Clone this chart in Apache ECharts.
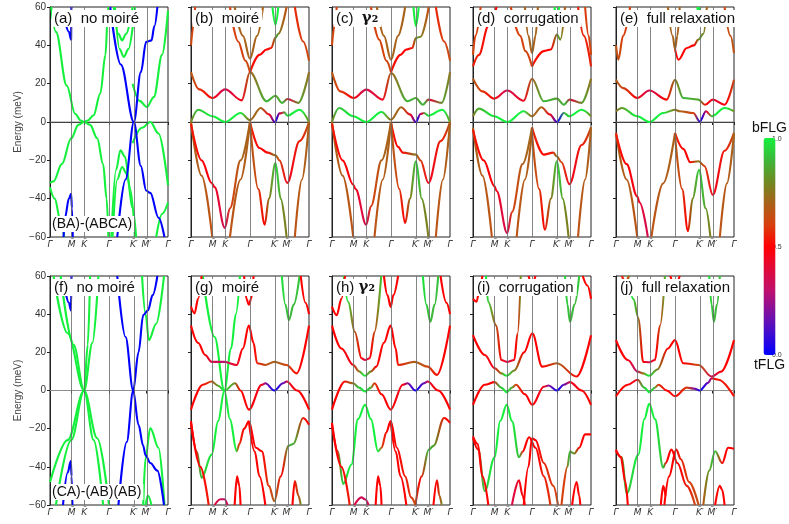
<!DOCTYPE html>
<html>
<head>
	<meta charset="UTF-8">
	<title>FLG band structures</title>
	<script src="https://cdn.jsdelivr.net/npm/echarts@6/dist/echarts.min.js"></script>
	<style>
		html, body { margin: 0; padding: 0; background: #fff; }
		#main { width: 789px; height: 524px; }
	</style>
</head>
<body>
<div id="main"></div>
<script type="text/javascript">
    // k path: Γ - M - K - Γ - K' - M' - Γ (fraction of path length)
    var kTicks = [0, 0.183, 0.289, 0.5, 0.711, 0.817, 1];
    var kLabels = ['Γ\u0304', 'M\u0304', 'K\u0304', 'Γ\u0304', 'K\u0304\u2032', 'M\u0304\u2032', 'Γ\u0304'];
    var eMin = -60, eMax = 60, eStep = 20;

    var panelTitles = ['(a)  no moiré', '(b)  moiré', '(c)  γ₂', '(d)  corrugation', '(e)  full relaxation',
        '(f)  no moiré', '(g)  moiré', '(h) γ₂', '(i)  corrugation', '(j)  full relaxation'];
    var stackLabels = ['(BA)-(ABCA)', '(CA)-(AB)(AB)'];

    // weight: 1 = bFLG (green), 0 = tFLG (blue)
    var bandsA_green = [
        [[0.01, 60], [0.05, 47], [0.142, 19], [0.213, 4.3], [0.26, 0.8], [0.289, 0], [0.32, 0.8], [0.369, 3.5], [0.426, 14.8], [0.47, 35], [0.49, 56.5], [0.495, 60]],
        [[0, -31.8], [0.03, -31], [0.1, -22], [0.18, -8.5], [0.24, -1.5], [0.289, 0], [0.34, -1.5], [0.4, -8.5], [0.45, -22], [0.48, -40], [0.495, -60]],
        [[0, -34], [0.04, -40], [0.09, -52], [0.12, -60]],
        [[0.54, 60], [0.58, 46], [0.611, 42.6], [0.645, 46], [0.7, 60]],
        [[0.55, 60], [0.59, 38], [0.625, 34], [0.665, 38], [0.72, 60]],
        [[0.52, -60], [0.56, -25], [0.597, -14.8], [0.635, -18], [0.68, -35], [0.72, -60]],
        [[0.53, -60], [0.57, -30], [0.611, -23.5], [0.65, -27], [0.7, -45], [0.73, -60]],
        [[0.7, 20], [0.76, 11], [0.82, 7.8], [0.88, 13], [0.95, 35], [1, 58]],
        [[0.7, -11], [0.78, -3], [0.85, 0], [0.92, -6], [1, -33]],
        [[0.9, -60], [0.95, -48], [1, -42]]
    ];
    var bandsA_blue = [
        [[0.57, -60], [0.64, -30], [0.711, 0], [0.77, 26], [0.815, 41.8], [0.86, 42.6], [0.885, 50], [0.91, 60]],
        [[0.51, 60], [0.6, 30], [0.711, 0], [0.77, -23], [0.815, -35.7], [0.85, -37], [0.92, -50], [0.97, -60]],
        [[0.13, 52], [0.16, 47], [0.179, 43], [0.181, 60]],
        [[0.115, -60], [0.128, -49.6], [0.16, -40], [0.179, -37.4], [0.186, -45], [0.193, -60]]
    ];
    var bandsF_green = [
        [[0.03, 60], [0.15, 30], [0.289, 0], [0.4, -25], [0.5, -60]],
        [[0.09, 60], [0.2, 24], [0.289, 0], [0.37, -26], [0.45, -60]],
        [[0, -48], [0.15, -26], [0.289, 0], [0.36, 25], [0.41, 60]],
        [[0.05, -60], [0.18, -26], [0.289, 0], [0.32, 24], [0.34, 60]],
        [[0.78, 60], [0.81, 40], [0.838, 26.4], [0.9, 35], [0.966, 60]],
        [[0.79, -60], [0.81, -35], [0.85, -19.7], [0.92, -30], [0.97, -60]],
        [[0.81, -60], [0.83, -55], [0.86, -60]]
    ];
    var bandsF_blue = [
        [[0.57, 60], [0.64, 28], [0.705, 0], [0.75, -18], [0.79, -29], [0.81, -34], [0.85, -38], [0.91, -42], [0.966, -60]],
        [[0.58, -60], [0.65, -27], [0.705, 0], [0.75, 20], [0.79, 39.5], [0.83, 42], [0.87, 50], [0.91, 60]],
        [[0.13, 52], [0.16, 46], [0.178, 42], [0.182, 60]],
        [[0.11, -60], [0.15, -43], [0.176, -37], [0.183, -45], [0.19, -60]]
    ];

    // [k, E (meV), weight]
    var bandsB = [
        [[0, 0, .72], [.06, 6.4, .9], [.183, 3, 1], [.289, 0, 1], [.42, 4.7, 1], [.5, 1, .72], [.59, 7.3, .7], [.66, 4, .45], [.711, 0, .02], [.75, 4.5, .4], [.79, 5, .9], [.817, 3.3, 1], [.92, 6.4, 1], [1, 0, .72]],
        [[0, 26, .7], [.07, 17, .6], [.183, 12.5, .5], [.289, 17, .35], [.43, 11.3, .45], [.5, 26, .7], [.64, 10.8, .9], [.716, 13.7, .85], [.77, 10, .9], [.817, 12, .4], [.91, 10, .85], [1, 26, .7]],
        [[.37, 60, .7], [.44, 45, .7], [.5, 33, .7], [.56, 45, .7], [.61, 60, .7]],
        [[.33, 60, .6], [.4, 42, .6], [.46, 32, .62], [.5, 26, .65]],
        [[.5, 26, .55], [.58, 35, .5], [.64, 37.8, .5], [.68, 38.6, .55], [.716, 44, .85], [.74, 46, .75], [.81, 60, .6]],
        [[.69, 60, 1], [.716, 50.8, 1], [.74, 60, 1]],
        [[0, 40, .65], [.02, 50, .6], [.035, 60, .6]],
        [[.88, 60, .55], [.95, 42, .6], [1, 32, .65]],
        [[0, 0, .7], [.09, -28, .68], [.18, -60, .65]],
        [[0, -1, .55], [.09, -20, .5], [.175, -31.8, .48], [.2, -34, .45], [.287, -55.3, .35], [.33, -45, .6], [.42, -20, .7], [.5, 0, .72]],
        [[.33, -60, .65], [.42, -30, .68], [.5, 0, .7]],
        [[.5, 0, .6], [.58, -13.6, .5], [.65, -16, .5], [.716, -17.4, .75], [.75, -20, .6], [.815, -31.8, .45], [.92, -10, .55], [1, 0, .7]],
        [[.5, 0, .7], [.57, -35, .62], [.625, -53.6, .5], [.66, -40, .75], [.716, -21.4, .95], [.76, -40, .8], [.81, -60, .75]],
        [[.88, -60, .65], [.94, -30, .68], [1, 0, .7]]
    ];
    var bandsC = [
        [[0, 0, .72], [.06, 7.3, .9], [.18, 3, 1], [.29, 0, 1], [.42, 5.2, 1], [.5, 1.2, .72], [.585, 7.7, .7], [.66, 4, .45], [.711, 0, .02], [.75, 4.2, .4], [.78, 4.7, .9], [.817, 3.3, 1], [.935, 6.4, 1], [1, 0, .72]],
        [[0, 26, .7], [.07, 16, .6], [.185, 12.5, .5], [.29, 16.9, .35], [.43, 11.7, .45], [.5, 25.6, .7], [.64, 10.8, .9], [.711, 12.5, .85], [.77, 9, .9], [.817, 11.7, .4], [.93, 10, .85], [1, 26, .7]],
        [[.38, 60, .7], [.44, 45, .7], [.5, 32.5, .7], [.56, 45, .7], [.62, 60, .7]],
        [[.33, 60, .6], [.4, 43, .6], [.46, 32, .62], [.5, 26, .65]],
        [[.5, 26, .55], [.58, 35, .5], [.63, 37.8, .5], [.68, 38.6, .55], [.711, 43.8, .85], [.75, 44.5, .75], [.82, 60, .6]],
        [[.69, 60, 1], [.711, 50, 1], [.735, 60, 1]],
        [[0, 40, .65], [.02, 50, .6], [.04, 60, .6]],
        [[.88, 60, .55], [.95, 42, .6], [1, 32, .65]],
        [[0, 0, .7], [.09, -28, .68], [.18, -60, .65]],
        [[0, -1, .55], [.09, -20, .5], [.18, -32.7, .48], [.2, -35, .45], [.29, -53.6, .35], [.33, -44, .6], [.42, -20, .7], [.5, 0, .72]],
        [[.36, -60, .65], [.43, -30, .68], [.5, 0, .7]],
        [[.5, 0, .6], [.56, -13, .5], [.6, -16, .5], [.711, -17, .75], [.75, -20, .6], [.817, -31.8, .45], [.92, -10, .55], [1, 0, .7]],
        [[.5, 0, .7], [.57, -35, .62], [.62, -52.7, .5], [.66, -40, .75], [.711, -20.5, .95], [.76, -40, .8], [.817, -60, .75]],
        [[.88, -60, .65], [.94, -30, .68], [1, 0, .7]]
    ];
    var bandsD = [
        [[0, 3, .7], [.05, 7, .85], [.18, 3, 1], [.29, 0, 1], [.43, 5.6, 1], [.5, 3, .7], [.58, 7.7, .7], [.65, 4, .45], [.711, 0, .02], [.77, 4.7, .9], [.817, 3, 1], [.92, 6.4, 1], [1, 3, .7]],
        [[0, 22.6, .7], [.08, 16, .6], [.18, 12.2, .5], [.29, 16.4, .35], [.43, 11.1, .45], [.5, 22.6, .7], [.6, 10.8, .9], [.711, 12.2, .85], [.77, 9, .9], [.817, 11.7, .4], [.92, 10, .85], [1, 22.6, .7]],
        [[.44, 60, .7], [.47, 45, .7], [.5, 36, .7], [.53, 45, .7], [.55, 60, .7]],
        [[.32, 60, .6], [.4, 45, .6], [.444, 37, .62], [.5, 29, .6]],
        [[.5, 29, .55], [.6, 37, .5], [.66, 37.8, .5], [.711, 45.6, .85], [.74, 43, .75], [.78, 60, .6]],
        [[.69, 60, 1], [.711, 53, 1], [.73, 60, 1]],
        [[0, 35, .65], [.02, 45, .6], [.065, 60, .6]],
        [[0, 29, .55], [.05, 35, .55], [.13, 50, .5], [.2, 60, .5]],
        [[.95, 60, .6], [.98, 45, .6], [1, 35, .65]],
        [[.89, 60, .55], [.94, 45, .55], [1, 29, .55]],
        [[0, -3, .7], [.08, -28, .68], [.16, -60, .65]],
        [[0, -4, .55], [.09, -20, .5], [.183, -33.6, .48], [.2, -36, .45], [.29, -58, .35], [.33, -47, .6], [.42, -22, .7], [.5, -2.8, .72]],
        [[.37, -60, .65], [.44, -30, .68], [.5, -5, .7]],
        [[.5, -2.8, .6], [.6, -17, .5], [.68, -16, .55], [.711, -18, .75], [.75, -21, .6], [.817, -32.4, .45], [.92, -12, .55], [1, -2.8, .7]],
        [[.5, -5.7, .7], [.56, -35, .62], [.61, -56.2, .5], [.66, -40, .75], [.711, -20.5, .95], [.76, -40, .8], [.81, -60, .75]],
        [[.89, -60, .65], [.95, -30, .68], [1, -2.8, .7]]
    ];
    var bandsE = [
        [[0, 5.6, .7], [.05, 7.3, .8], [.18, 3, 1], [.283, 0, 1], [.4, 4.7, 1], [.5, 6.4, .75], [.54, 5.6, .7], [.655, 4.7, .6], [.71, 0.3, 0], [.763, 5.6, .45], [.81, 3, 1], [.92, 7.3, 1], [1, 5.6, .72]],
        [[0, 22, .7], [.06, 17.7, .65], [.18, 12.5, .5], [.283, 16.4, .35], [.43, 11.7, .5], [.5, 22, .75], [.57, 12.5, .9], [.698, 11.7, .85], [.754, 9, .5], [.82, 11.7, .4], [.92, 9, .5], [1, 22, .7]],
        [[0, 40, .65], [.02, 32.5, .65], [.06, 45, .6], [.12, 60, .6]],
        [[.44, 60, .7], [.48, 45, .7], [.5, 38, .7], [.52, 45, .7], [.54, 60, .7]],
        [[.5, 38, .6], [.53, 32.5, .5], [.6, 38.6, .5], [.66, 40, .5], [.698, 43, .85], [.74, 46, .75], [.77, 60, .6]],
        [[.69, 60, 1], [.698, 55, 1], [.71, 60, 1]],
        [[.92, 60, .6], [.97, 45, .65], [1, 36, .65]],
        [[0, -5.7, .7], [.09, -30, .68], [.18, -60, .65]],
        [[0, -6, .55], [.09, -22, .5], [.18, -38.8, .45], [.2, -42, .4], [.27, -60, .35]],
        [[.3, -60, .65], [.4, -32, .68], [.5, -5.7, .7]],
        [[.5, -5.7, .6], [.57, -14, .5], [.63, -21, .5], [.7, -20.5, .75], [.75, -23, .6], [.82, -38, .45], [.92, -15, .55], [1, -5.7, .7]],
        [[.5, -7, .7], [.56, -35, .62], [.61, -57, .5], [.65, -40, .8], [.703, -25, .95], [.76, -45, .8], [.8, -60, .75]],
        [[.88, -60, .65], [.94, -32, .68], [1, -5.7, .7]]
    ];
    var bandsG = [
        [[.1, 60, 1], [.2, 28, 1], [.283, 0, 1], [.33, -15, 1], [.387, -31.8, 1], [.41, -28, .6], [.45, -20, .5], [.49, -16.2, .5], [.55, -30, .5], [.6, -31.8, .5], [.66, -50, .6], [.706, -58, .7], [.76, -45, .5], [.825, -29, .9], [.867, -28, .85], [.95, -14.4, .5], [1, -18, .5]],
        [[0, -16, .5], [.05, -32, .5], [.09, -45.8, .9], [.175, -33.6, 1], [.23, -16, 1], [.283, 0, 1], [.34, 22, 1], [.38, 40, 1], [.415, 60, 1]],
        [[0, -10, .5], [.1, 3, .5], [.175, 4.7, .6], [.23, 2.5, .8], [.283, 0, 1], [.373, 3.8, .8], [.42, 0, .5], [.49, -10, .5], [.6, 3, .45], [.63, 3.8, .2], [.706, 0, 0], [.78, 3.8, .2], [.81, 4.7, .45], [.9, 0, .5], [1, -10, .5]],
        [[0, 34, .5], [.06, 25, .5], [.12, 18.6, .5], [.175, 15, .4], [.283, 15, .3], [.387, 13.4, .45], [.44, 22, .5], [.49, 34, .5], [.53, 25, .5], [.56, 14.3, .55], [.63, 13.4, .65], [.706, 15, .7], [.81, 13.4, .6], [.895, 9, .5], [1, 34, .5]],
        [[0, 44, .5], [.03, 40.4, .5], [.06, 48, .5], [.09, 60, .5]],
        [[.45, 60, .5], [.47, 48, .5], [.49, 45, .5], [.51, 48, .5], [.53, 60, .5]],
        [[.77, 60, 1], [.8, 45, .95], [.83, 36.9, .9], [.87, 45, .9], [.92, 60, .95]],
        [[.93, 60, .5], [.97, 46, .5], [1, 40, .5]],
        [[0, -17, .5], [.08, -40, .5], [.15, -60, .55]],
        [[.49, -16.2, .5], [.54, -32, .5], [.58, -45, .5], [.63, -60, .5]],
        [[.2, -60, .4], [.25, -57, .35], [.283, -57, .3], [.31, -60, .4]],
        [[.37, -60, .5], [.39, -45, .5], [.41, -50, .5], [.42, -60, .5]],
        [[.86, -60, .5], [.88, -47.5, .5], [.91, -55, .7], [.93, -60, .9]]
    ];
    var bandsH = [
        [[.1, 60, 1], [.137, 46.5, 1], [.193, 30.8, .7], [.25, 16.9, .5], [.28, 16, .35], [.32, 16.9, .5], [.361, 30.8, .7], [.417, 60, 1]],
        [[0, 34, .5], [.08, 22, .5], [.18, 13.4, .45], [.23, 10, .7], [.28, 7.7, 1], [.33, 10, .8], [.375, 12.5, .5], [.44, 25, .5], [.497, 34, .5], [.54, 22, .5], [.56, 13.4, .55], [.7, 15, .7], [.81, 12.5, .6], [.89, 8.2, .5], [1, 34, .5]],
        [[0, -10, .5], [.11, 4.7, .5], [.18, 3.8, .7], [.23, 1.5, .9], [.28, -0.5, 1], [.33, 1.5, .9], [.36, 3.8, .6], [.42, -2, .5], [.497, -10, .5], [.6, 3, .45], [.64, 3.8, .2], [.707, 0, 0], [.78, 3.8, .2], [.81, 4.7, .45], [.9, 0, .5], [1, -10, .5]],
        [[0, -17, .5], [.05, -32, .5], [.095, -49, .9], [.165, -38.8, 1], [.22, -15, 1], [.28, -7.5, 1], [.33, -15, 1], [.39, -31.8, 1], [.42, -30, .6], [.46, -22, .5], [.497, -16, .5], [.55, -30, .5], [.62, -45, .55], [.67, -56, .6], [.707, -60, .7]],
        [[.707, -60, .7], [.76, -45, .5], [.82, -31, .9], [.86, -29, .85], [.95, -14.4, .5], [1, -17, .5]],
        [[0, -18, .5], [.08, -40, .5], [.15, -60, .55]],
        [[.497, -16, .5], [.54, -32, .5], [.58, -45, .5], [.63, -60, .5]],
        [[0, 44, .5], [.04, 39.5, .5], [.08, 48, .5], [.11, 60, .5]],
        [[.44, 60, .5], [.47, 50, .5], [.497, 43.8, .5], [.52, 50, .5], [.56, 60, .5]],
        [[.77, 60, 1], [.8, 45, .95], [.833, 36, .9], [.87, 45, .9], [.9, 60, .95]],
        [[.92, 60, .5], [.97, 46, .5], [1, 40, .5]],
        [[.19, -60, .4], [.25, -56, .35], [.28, -57, .3], [.31, -60, .4]],
        [[.37, -60, .5], [.39, -45, .5], [.41, -50, .5], [.42, -60, .5]],
        [[.86, -60, .5], [.89, -47, .5], [.91, -55, .7], [.93, -60, .9]]
    ];
    var bandsI = [
        [[.11, 60, 1], [.128, 46.5, 1], [.197, 34, .7], [.239, 16, .5], [.286, 15, .35], [.35, 16, .5], [.378, 30, .7], [.405, 60, 1]],
        [[0, 29, .5], [.1, 18.6, .5], [.183, 11.7, .45], [.24, 9, .7], [.286, 7.7, 1], [.35, 10.5, .8], [.433, 20, .5], [.503, 30, .5], [.586, 12.5, .5], [.711, 14.3, .7], [.878, 7.3, .5], [1, 29, .5]],
        [[0, -7.5, .5], [.1, 3, .5], [.183, 4.4, .5], [.24, 1.5, .9], [.286, -0.9, 1], [.33, 1.5, .9], [.364, 3, .6], [.44, -2, .5], [.503, -7.5, .5], [.6, 2, .45], [.64, 2.6, .2], [.711, 0, 0], [.77, 3, .2], [.822, 4.4, .45], [.92, 0, .5], [1, -7.5, .5]],
        [[0, -25, .5], [.045, -31, .5], [.1, -52.7, .9], [.183, -35, 1], [.23, -16, 1], [.286, -7.5, 1], [.33, -16, 1], [.39, -35, .9], [.42, -32, .5], [.475, -24.5, .5], [.53, -30, .5], [.6, -45, .55], [.656, -60, .6]],
        [[.43, -60, .5], [.47, -40, .5], [.5, -25, .5], [.53, -26, .5], [.6, -38, .55], [.68, -50, .6], [.72, -60, .65]],
        [[0, -24, .5], [.04, -28, .5], [.08, -45, .5], [.13, -60, .5]],
        [[.75, -60, .6], [.8, -40, .6], [.822, -32, .9], [.86, -33, .8], [.9, -30, .5], [.95, -23, .5], [1, -23, .5]],
        [[.84, -60, .5], [.878, -48, .5], [.9, -55, .5], [.91, -60, .6]],
        [[.33, -60, .35], [.39, -47, .45], [.42, -55, .5], [.44, -60, .5]],
        [[0, 48, .5], [.03, 46.5, .5], [.06, 55, .5], [.08, 60, .5]],
        [[.78, 60, 1], [.8, 45, .95], [.822, 36, .9], [.86, 45, .9], [.9, 60, .95]],
        [[.93, 60, .5], [.97, 55, .5], [1, 48, .5]],
        [[.47, 60, .5], [.5, 56, .5], [.53, 60, .5]]
    ];
    var bandsJ = [
        [[.1, 60, 1], [.147, 48, 1], [.19, 38, .8], [.23, 15, .5], [.282, 14.8, .35], [.33, 16, .5], [.373, 34, .7], [.415, 60, 1]],
        [[0, 26.4, .5], [.1, 16, .5], [.183, 9.9, .3], [.23, 9, .7], [.282, 7.7, 1], [.35, 11, .8], [.44, 22, .5], [.5, 26.4, .5], [.57, 14.3, .5], [.7, 13.4, .65], [.81, 7.3, .35], [.89, 9.9, .5], [1, 26.4, .5]],
        [[0, -3, .5], [.1, 3, .5], [.183, 5.6, .45], [.24, 1.5, .9], [.282, -0.9, 1], [.33, 1.5, .9], [.36, 3, .6], [.43, 0, .5], [.5, -3, .5], [.6, 1.5, .6], [.66, 1, .2], [.71, 0, 0], [.78, 4, .2], [.81, 6.4, .5], [.87, 5.6, .55], [1, -3, .5]],
        [[0, -31.8, .5], [.05, -35, .5], [.09, -54, .9], [.19, -33.6, 1], [.24, -15, 1], [.282, -7, 1], [.33, -15, 1], [.4, -40.5, .9], [.42, -38, .5], [.47, -31, .5], [.52, -38, .5], [.6, -50, .55], [.67, -60, .65]],
        [[.41, -60, .5], [.45, -45, .5], [.51, -31, .5], [.55, -36, .55], [.62, -48, .6], [.7, -60, .65]],
        [[0, -31, .5], [.04, -35, .5], [.08, -48, .5], [.1, -60, .5]],
        [[.74, -60, .6], [.79, -42, .8], [.84, -31.8, .95], [.9, -38, .5], [.95, -30, .5], [1, -30.5, .5]],
        [[.84, -60, .5], [.88, -50, .5], [.9, -52, .5], [.92, -60, .5]],
        [[.38, -60, .5], [.4, -50, .5], [.42, -55, .5]],
        [[.79, 60, 1], [.81, 45, .95], [.83, 36, .9], [.855, 45, .9], [.88, 60, .95]],
        [[.46, 60, .5], [.5, 55, .5], [.54, 60, .5]],
        [[.05, 60, .5], [.08, 57, .6], [.11, 60, .7]]
    ];

    function withWeight(list, w) {
        return list.map(function (b) { return b.map(function (p) { return [p[0], p[1], w]; }); });
    }
    var panelBands = [
        withWeight(bandsA_green, 1).concat(withWeight(bandsA_blue, 0)),
        bandsB, bandsC, bandsD, bandsE,
        withWeight(bandsF_green, 1).concat(withWeight(bandsF_blue, 0)),
        bandsG, bandsH, bandsI, bandsJ
    ];

    // colour map tFLG (0) -> bFLG (1)
    var cmapStops = [[0, '#0000ff'], [0.15, '#6010b8'], [0.3, '#c0106c'], [0.42, '#e8082e'], [0.5, '#ff0000'],
        [0.6, '#d8400e'], [0.7, '#a8621a'], [0.8, '#6e8a22'], [0.9, '#3cb83a'], [1, '#14f03c']];

    function hexRgb(h) {
        return [parseInt(h.substr(1, 2), 16), parseInt(h.substr(3, 2), 16), parseInt(h.substr(5, 2), 16)];
    }
    function cmap(w) {
        w = Math.max(0, Math.min(1, w));
        for (var i = 1; i < cmapStops.length; i++) {
            if (w <= cmapStops[i][0]) {
                var a = cmapStops[i - 1], b = cmapStops[i];
                var t = (w - a[0]) / (b[0] - a[0]);
                var ca = hexRgb(a[1]), cb = hexRgb(b[1]);
                return 'rgb(' + [0, 1, 2].map(function (j) { return Math.round(ca[j] + (cb[j] - ca[j]) * t); }).join(',') + ')';
            }
        }
        return cmapStops[cmapStops.length - 1][1];
    }

    var gridLefts = [50, 191, 332, 473, 616];
    var gridW = 118;
    var rowTops = [7, 276];
    var rowH = [230, 229];

    var grids = [], xAxes = [], yAxes = [], series = [], titles = [];

    for (var g = 0; g < 10; g++) {
        var row = Math.floor(g / 5), col = g % 5;
        grids.push({
            left: gridLefts[col], top: rowTops[row], width: gridW, height: rowH[row],
            show: true, borderColor: '#222', borderWidth: 1
        });
        xAxes.push({
            gridIndex: g, type: 'value', min: 0, max: 1,
            axisLine: {show: true, lineStyle: {color: '#222', width: 1}},
            axisTick: {show: true, customValues: kTicks, length: 3, lineStyle: {color: '#222'}},
            axisLabel: {
                customValues: kTicks, fontSize: 9, fontStyle: 'italic', color: '#333', margin: 3,
                fontFamily: 'DejaVu Sans',
                formatter: function (v) {
                    var i = kTicks.indexOf(v);
                    return i >= 0 ? kLabels[i] : '';
                }
            },
            splitLine: {show: false}
        });
        var y = {
            gridIndex: g, type: 'value', min: eMin, max: eMax, interval: eStep,
            axisLine: {show: true, lineStyle: {color: '#222', width: 1}},
            axisTick: {show: true, length: 3, lineStyle: {color: '#222'}},
            axisLabel: {
                show: col === 0, fontSize: 10, color: '#333', margin: 4, fontFamily: 'Liberation Sans',
                formatter: function (v) { return v < 0 ? '\u2212' + (-v) : String(v); }
            },
            splitLine: {show: false}
        };
        if (col === 0) {
            y.name = 'Energy (meV)';
            y.nameLocation = 'middle';
            y.nameGap = 27;
            y.nameTextStyle = {fontSize: 10, color: '#444', fontFamily: 'Liberation Sans'};
        }
        yAxes.push(y);

        // zero line + high-symmetry verticals
        series.push({
            type: 'line', xAxisIndex: g, yAxisIndex: g, data: [[0, 0], [1, 0]],
            symbol: 'none', silent: true, z: 1,
            lineStyle: {color: row === 0 ? '#777' : '#aaa', width: 0.8},
            markLine: {
                silent: true, symbol: 'none', animation: false,
                label: {show: false},
                lineStyle: {color: '#666', width: 0.8, type: 'solid'},
                data: kTicks.slice(1, -1).map(function (v) { return {xAxis: v}; })
            }
        });

        panelBands[g].forEach(function (pts) {
            var k0 = pts[0][0], k1 = pts[pts.length - 1][0];
            var same = pts.every(function (p) { return p[2] === pts[0][2]; });
            var color;
            if (same || k1 === k0) {
                color = cmap(pts[0][2]);
            } else {
                color = new echarts.graphic.LinearGradient(0, 0, 1, 0, pts.map(function (p) {
                    return {offset: (p[0] - k0) / (k1 - k0), color: cmap(p[2])};
                }));
            }
            series.push({
                type: 'line', xAxisIndex: g, yAxisIndex: g,
                data: pts.map(function (p) { return [p[0], p[1]]; }),
                smooth: 0.35, smoothMonotone: 'x', symbol: 'none', showSymbol: false,
                silent: true, clip: true, z: 3,
                lineStyle: {width: 2.1, color: color}
            });
        });

        var t = panelTitles[g];
        titles.push({
            text: t.indexOf('γ') >= 0 ? t.replace('γ₂', '{g|γ₂}') : t,
            left: gridLefts[col] + 2, top: rowTops[row] + 3,
            backgroundColor: '#fff', padding: [1, 3, 1, 2],
            textStyle: {
                fontSize: 15, fontWeight: 'normal', color: '#111', fontFamily: 'Liberation Sans',
                rich: {g: {fontSize: 15, fontFamily: 'DejaVu Serif', fontWeight: 'bold', color: '#111'}}
            }
        });
    }

    titles.push({
        text: stackLabels[0], left: 51, top: 216, backgroundColor: '#fff', padding: [1, 2, 1, 1],
        textStyle: {fontSize: 14, fontWeight: 'normal', color: '#111', fontFamily: 'Liberation Sans'}
    });
    titles.push({
        text: stackLabels[1], left: 51, top: 484, backgroundColor: '#fff', padding: [1, 2, 1, 1],
        textStyle: {fontSize: 14, fontWeight: 'normal', color: '#111', fontFamily: 'Liberation Sans'}
    });

    // dummy series that carries the colour bar
    series.push({type: 'scatter', xAxisIndex: 0, yAxisIndex: 0, data: [], silent: true});
    var barColors = [];
    for (var i = 0; i <= 20; i++) barColors.push(cmap(i / 20));

    var myChart = echarts.init(document.getElementById('main'));
    myChart.setOption({
        animation: false,
        title: titles,
        grid: grids,
        xAxis: xAxes,
        yAxis: yAxes,
        series: series,
        visualMap: {
            type: 'continuous', min: 0, max: 1, seriesIndex: series.length - 1,
            orient: 'vertical', left: 752, top: 121, padding: 0,
            itemWidth: 12, itemHeight: 217, calculable: false, realtime: false,
            text: ['bFLG', 'tFLG'], textGap: 3,
            textStyle: {fontSize: 14, color: '#111', fontFamily: 'Liberation Sans'},
            inRange: {color: barColors}
        },
        graphic: [
            {type: 'text', left: 772, top: 136, style: {text: '1.0', fontSize: 7, fill: '#333', fontFamily: 'Liberation Sans'}},
            {type: 'text', left: 772, top: 244, style: {text: '0.5', fontSize: 7, fill: '#333', fontFamily: 'Liberation Sans'}},
            {type: 'text', left: 772, top: 352, style: {text: '0.0', fontSize: 7, fill: '#333', fontFamily: 'Liberation Sans'}},
            {type: 'line', shape: {x1: 768, y1: 248, x2: 771, y2: 248}, style: {stroke: '#333', lineWidth: 0.8}}
        ]
    });
</script>
</body>
</html>
